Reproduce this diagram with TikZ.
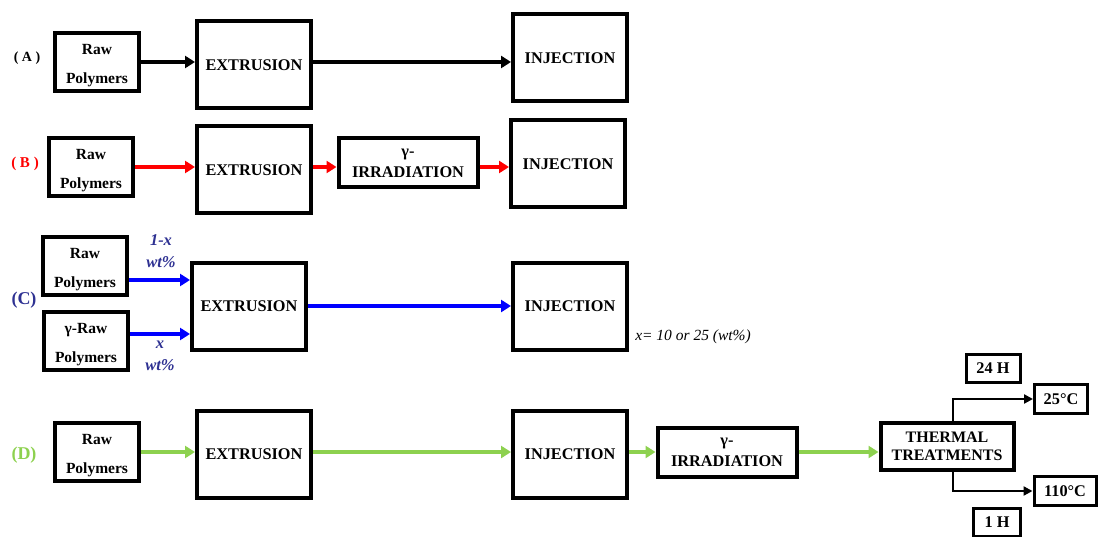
\documentclass[tikz,border=0pt]{standalone}
\usepackage{fontspec}
\setmainfont{Liberation Serif}
\usetikzlibrary{arrows.meta,positioning}
\definecolor{cred}{HTML}{FF0000}
\definecolor{cblue}{HTML}{0000FF}
\definecolor{cnavy}{HTML}{2E3192}
\definecolor{cgreen}{HTML}{8DD14F}
\newcommand{\toplift}{\rule{0pt}{18pt}}
\tikzset{
  box/.style={rectangle, draw=black, line width=4pt, fill=white, align=center,
    font=\fontsize{16.3}{18}\selectfont\bfseries, inner sep=2pt},
  raw/.style={box, minimum width=84pt, minimum height=58pt,
    font=\fontsize{15.5}{29}\selectfont\bfseries},
  big/.style={box, minimum width=114pt, minimum height=87pt},
  irr/.style={box, minimum width=139pt, minimum height=49pt,
    font=\fontsize{16.3}{21}\selectfont\bfseries},
  therm/.style={box, minimum width=133pt, minimum height=47pt,
    font=\fontsize{16}{18}\selectfont\bfseries},
  tagbox/.style={box, line width=3pt, minimum height=28pt, inner sep=1pt},
  arr/.style={-{Triangle[length=10pt,width=12pt]}, line width=3.6pt},
  barr/.style={-{Triangle[length=9pt,width=9pt]}, line width=2.6pt},
  lab/.style={font=\fontsize{16}{18}\selectfont\bfseries},
}

\begin{document}
\begin{tikzpicture}[x=1pt, y=1pt]
  \useasboundingbox (0,0) rectangle (1099,-537);
  % row A
  \node[lab, font=\fontsize{14}{16}\selectfont\bfseries] (labA) at (27,-58) {( A )};
  \node[raw] (rawA) at (97,-62) {\toplift Raw\\Polymers};
  \node[big] (extA) at (254,-65) {EXTRUSION};
  \node[big] (injA) at (570,-58) {INJECTION};
  \draw[arr] (rawA.east) -- (extA.west |- rawA.east);
  \draw[arr] (extA.east |- rawA) -- (injA.west |- rawA);

  % row B
  \node[lab, cred, font=\fontsize{15}{17}\selectfont\bfseries] (labB) at (25,-164) {( B )};
  \node[raw] (rawB) at (91,-167) {\toplift Raw\\Polymers};
  \node[big] (extB) at (254,-170) {EXTRUSION};
  \node[irr] (irrB) at (408,-163) {γ-\\IRRADIATION};
  \node[big] (injB) at (568,-164) {INJECTION};
  \draw[arr, cred] (rawB.east) -- (extB.west |- rawB.east);
  \draw[arr, cred] (extB.east |- rawB) -- (irrB.west |- rawB);
  \draw[arr, cred] (irrB.east |- rawB) -- (injB.west |- rawB);

  % row C
  \node[lab, cnavy, font=\fontsize{18}{20}\selectfont\bfseries] (labC) at (24,-300) {(C)};
  \node[raw] (rawC) at (85,-266) {\toplift Raw\\Polymers};
  \node[raw] (grawC) at (86,-341) {\toplift γ-Raw\\Polymers};
  \node[big] (extC) at (249,-306) {EXTRUSION};
  \node[big] (injC) at (570,-306) {INJECTION};
  \draw[arr, cblue] ([yshift=-14pt]rawC.east) coordinate (c1) -- (extC.west |- c1);
  \draw[arr, cblue] ([yshift=7pt]grawC.east) coordinate (c2) -- (extC.west |- c2);
  \draw[arr, cblue] (extC) -- (injC);
  \node[lab, cnavy, align=center, font=\fontsize{16.5}{22}\selectfont\bfseries\itshape] (fracA) at (161,-251) {1-x\\wt\%};
  \node[lab, cnavy, align=center, font=\fontsize{16.5}{22}\selectfont\bfseries\itshape] (fracB) at (160,-356) {x\\wt\%};
  \node[font=\fontsize{15.5}{17}\selectfont\itshape] (note) at (693,-337) {x= 10 or 25 (wt\%)};

  % row D
  \node[lab, cgreen, font=\fontsize{18}{20}\selectfont\bfseries] (labD) at (24,-455) {(D)};
  \node[raw] (rawD) at (97,-452) {\toplift Raw\\Polymers};
  \node[big] (extD) at (254,-454) {EXTRUSION};
  \node[big] (injD) at (570,-454) {INJECTION};
  \node[irr] (irrD) at (727,-452) {γ-\\IRRADIATION};
  \node[therm] (therm) at (947,-446) {THERMAL\\TREATMENTS};
  \draw[arr, cgreen] (rawD.east) -- (extD.west |- rawD.east);
  \draw[arr, cgreen] (extD.east |- rawD) -- (injD.west |- rawD);
  \draw[arr, cgreen] (injD.east |- rawD) -- (irrD.west |- rawD);
  \draw[arr, cgreen] (irrD.east |- rawD) -- (therm.west |- rawD);

  % thermal branches
  \node[tagbox, minimum width=54pt] (h24) at (993,-368) {24 H};
  \node[tagbox, minimum width=53pt, minimum height=29pt] (t25) at (1061,-399) {25°C};
  \node[tagbox, minimum width=62pt, minimum height=29pt] (t110) at (1065,-491) {110°C};
  \node[tagbox, minimum width=47pt] (h1) at (997,-522) {1 H};
  \draw[barr] ([xshift=6pt]therm.north) |- (t25.west);
  \draw[barr] ([xshift=6pt]therm.south) |- (t110.west);
\end{tikzpicture}
\end{document}
